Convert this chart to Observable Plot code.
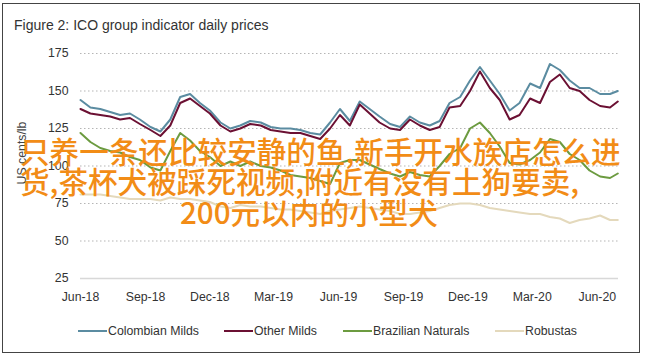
<!DOCTYPE html>
<html>
<head>
<meta charset="utf-8">
<script src="https://cdn.jsdelivr.net/npm/d3@7"></script>
<script src="https://cdn.jsdelivr.net/npm/@observablehq/plot@0.6"></script>
<style>
  body { margin: 0; background: #fff; }
  #wrap { position: relative; width: 646px; height: 360px; background: #fff; overflow: hidden;
          font-family: "Liberation Sans", Arial, sans-serif; color: #333; }
  #frame { position: absolute; left: 2px; top: 3px; width: 638px; height: 350px; border: 1.5px solid #444; box-sizing: border-box; }
  #title { position: absolute; left: 14px; top: 17px; font-size: 14px; color: #333; white-space: nowrap; }
  #chart { position: absolute; left: 0; top: 0; }
  #ylabel { position: absolute; left: 22px; top: 153px; transform: translate(-50%, -50%) rotate(-90deg);
            font-size: 12.3px; color: #444; white-space: nowrap; }
  .leg { position: absolute; top: 324px; font-size: 12.3px; color: #333; white-space: nowrap; display: flex; align-items: center; }
  .leg span.sw { display: inline-block; width: 29px; height: 2.5px; margin-right: 1px; }
  .ov { position: absolute; font-family: "Noto Sans CJK SC", sans-serif; font-size: 29.6px; line-height: 30px;
        font-weight: 500; color: #f28c16; white-space: nowrap; }
</style>
</head>
<body>
<div id="wrap">
  <div id="frame"></div>
  <div id="title">Figure 2: ICO group indicator daily prices</div>
  <div id="chart"></div>
  <div id="ylabel">US cents/lb</div>
  <div id="legend"></div>
  <div class="ov" style="left:20px;top:136px;">只养一条还比较安静的鱼,新手开水族店怎么进</div>
  <div class="ov" style="left:20px;top:166px;">货,茶杯犬被踩死视频,附近有没有土狗要卖,</div>
  <div class="ov" style="left:180px;top:197px;">200元以内的小型犬</div>
</div>
<script>
const dates = ["2018-06-01","2018-06-15","2018-06-29","2018-07-13","2018-07-27","2018-08-10","2018-08-24","2018-09-08","2018-09-22","2018-10-06",
  "2018-10-20","2018-11-03","2018-11-17","2018-12-01","2018-12-16","2018-12-30","2019-01-13","2019-01-27","2019-02-11","2019-02-25",
  "2019-03-11","2019-03-25","2019-04-08","2019-04-22","2019-05-06","2019-05-20","2019-06-03","2019-06-17","2019-07-01","2019-07-15",
  "2019-07-29","2019-08-13","2019-08-27","2019-09-10","2019-09-24","2019-10-08","2019-10-22","2019-11-05","2019-11-20","2019-12-04",
  "2019-12-18","2020-01-01","2020-01-15","2020-01-29","2020-02-12","2020-02-27","2020-03-12","2020-03-26","2020-04-09","2020-04-23",
  "2020-05-07","2020-05-21","2020-06-05","2020-06-19","2020-06-30"];
const colombianMilds = [144,139,138,136,134,135,131,126,123,131,
  146,148,142,137,129,125,127,130,129,126,
  125,125,124,122,121,129,138,130,143,138,
  133,128,126,133,129,127,130,142,146,157,
  166,157,148,137,142,155,152,168,164,157,
  152,152,148,148,150];
const otherMilds = [138,135,134,133,131,132,128,124,120,127,
  142,145,140,135,127,123,125,128,127,124,
  123,122,122,120,118,125,134,127,141,135,
  129,125,124,131,127,124,126,139,140,150,
  163,152,144,131,134,145,142,156,161,152,
  150,144,140,139,143];
const brazilianNaturals = [122,116,112,110,109,106,104,99,97,110,
  122,117,110,106,100,103,100,103,100,99,
  97,94,93,92,90,88,102,104,104,101,
  98,95,93,96,94,93,100,108,112,125,
  129,122,113,102,101,104,109,118,116,108,
  104,97,93,92,95];
const robustas = [81,81,81,80,79,78,78,78,77,79,
  78,78,77,76,73,72,74,73,73,72,
  71,71,70,69,68,70,71,72,73,72,
  71,70,68,68,69,70,72,74,75,75,
  74,72,71,70,69,68,68,66,65,62,
  64,65,67,64,64];
const seriesNames = ["Colombian Milds", "Other Milds", "Brazilian Naturals", "Robustas"];
const seriesColors = ["#5b8ca1", "#6b1033", "#6c9b40", "#e4d9bc"];
const yTicks = [25, 50, 75, 100, 125, 150, 175];
const xTickLabels = ["2018-06-01","2018-09-01","2018-12-01","2019-03-01","2019-06-01","2019-09-01","2019-12-01","2020-03-01","2020-06-01"];

const valueSets = [colombianMilds, otherMilds, brazilianNaturals, robustas];
const rows = [];
valueSets.forEach((vals, i) => vals.forEach((v, j) => rows.push({series: seriesNames[i], date: new Date(dates[j]), value: v})));

const drawOrder = [3, 2, 0, 1];
const chart = Plot.plot({
  width: 646, height: 310,
  marginTop: 53, marginBottom: 32, marginLeft: 80, marginRight: 28,
  style: {fontFamily: '"Liberation Sans", Arial, sans-serif', fontSize: "12.3px", color: "#333", background: "transparent"},
  x: {type: "utc", domain: [new Date("2018-06-01"), new Date("2020-07-01")], ticks: xTickLabels.map(d => new Date(d)),
      tickFormat: d3.utcFormat("%b-%y"), tickSize: 0, tickPadding: 14, label: null},
  y: {domain: [25, 175], ticks: yTicks, tickSize: 0, tickPadding: 12, label: null},
  marks: [
    Plot.ruleY(yTicks.filter(d => d > 25), {stroke: "#b5b5b5", strokeWidth: 1.2, strokeDasharray: "1.5,2.5"}),
    Plot.ruleY([25], {stroke: "#d8d8d8", strokeWidth: 1.5}),
    ...drawOrder.map(i => Plot.line(rows.filter(r => r.series === seriesNames[i]),
      {x: "date", y: "value", stroke: seriesColors[i], strokeWidth: 2, curve: "linear"}))
  ]
});
document.getElementById("chart").appendChild(chart);

const legendX = [78, 224, 343, 495];
const legend = document.getElementById("legend");
seriesNames.forEach((name, i) => {
  const item = document.createElement("div");
  item.className = "leg";
  item.style.left = legendX[i] + "px";
  const sw = document.createElement("span");
  sw.className = "sw";
  sw.style.background = seriesColors[i];
  item.appendChild(sw);
  item.appendChild(document.createTextNode(name));
  legend.appendChild(item);
});
</script>
</body>
</html>
